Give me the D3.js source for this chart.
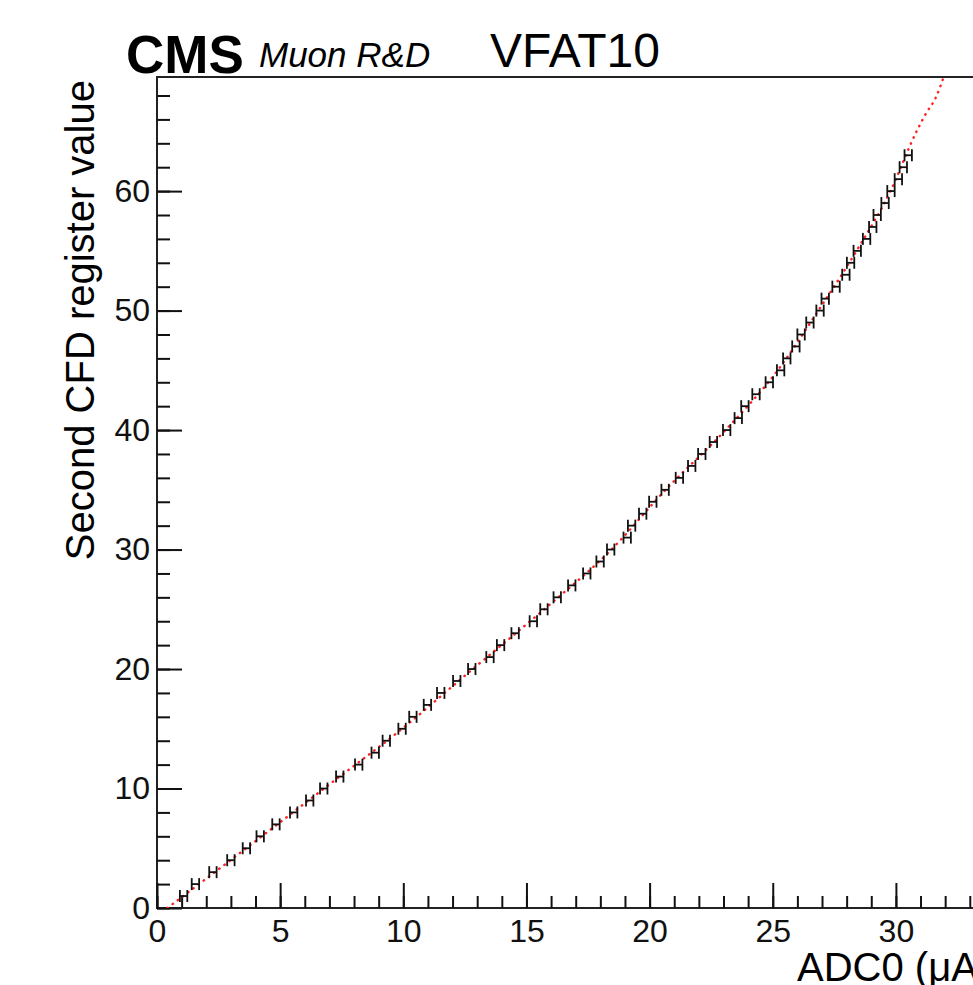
<!DOCTYPE html>
<html lang="en">
<head>
<meta charset="utf-8">
<script src="https://cdn.jsdelivr.net/npm/d3@7"></script>
<style>
  body { margin: 0; background: #fff; }
  svg { display: block; font-family: "Liberation Sans", Arial, sans-serif; }
</style>
</head>
<body>
<svg width="973" height="985"></svg>
<script>
  // register value (y) vs measured ADC0 current (x)
  var regValues = [1, 2, 3, 4, 5, 6, 7, 8, 9, 10, 11, 12, 13, 14, 15, 16, 17, 18, 19, 20,
    21, 22, 23, 24, 25, 26, 27, 28, 29, 30, 31, 32, 33, 34, 35, 36, 37, 38, 39, 40,
    41, 42, 43, 44, 45, 46, 47, 48, 49, 50, 51, 52, 53, 54, 55, 56, 57, 58, 59, 60,
    61, 62, 63];
  var adcValues = [1.08, 1.56, 2.27, 3.00, 3.63, 4.19, 4.83, 5.55, 6.20, 6.77,
    7.42, 8.19, 8.86, 9.31, 9.95, 10.39, 10.98, 11.52, 12.17, 12.78,
    13.52, 13.95, 14.54, 15.28, 15.71, 16.25, 16.84, 17.45, 17.99, 18.42,
    19.09, 19.27, 19.72, 20.13, 20.63, 21.21, 21.71, 22.12, 22.59, 23.13,
    23.60, 23.87, 24.32, 24.86, 25.32, 25.57, 25.94, 26.15, 26.51, 26.92,
    27.13, 27.57, 27.97, 28.16, 28.43, 28.81, 29.06, 29.24, 29.56, 29.80,
    30.10, 30.30, 30.50];
  var adcErr = 0.15;

  // fit curve
  var fitX = [0.42, 1.0, 3.62, 6.78, 9.95, 12.82, 15.72, 18.45, 20.65, 23.08, 25.2, 26.85, 28.4, 29.78, 30.84, 31.25, 31.59, 31.95];
  var fitY = [0, 0.9, 5, 10, 15, 20, 25, 30, 35, 40, 45, 50, 55, 60, 65, 66.6, 67.7, 69.6];

  var xMajor = [0, 5, 10, 15, 20, 25, 30];
  var yMajor = [0, 10, 20, 30, 40, 50, 60];

  var svg = d3.select("svg");
  var padLeft = 157, padTop = 77, padBottom = 908;

  var x = d3.scaleLinear().domain([0, 35]).range([padLeft, padLeft + 35 * 24.63]);
  var y = d3.scaleLinear().domain([0, 69.55]).range([padBottom, padTop]);

  svg.append("defs").append("clipPath").attr("id", "frame")
    .append("rect").attr("x", padLeft).attr("y", padTop)
    .attr("width", 1000).attr("height", padBottom - padTop);

  // frame
  svg.append("rect")
    .attr("x", padLeft).attr("y", padTop)
    .attr("width", x(35) - padLeft).attr("height", padBottom - padTop)
    .attr("fill", "none").attr("stroke", "#222").attr("stroke-width", 2);

  // x axis
  var xMinor = d3.axisBottom(x).ticks(35).tickSize(-12).tickFormat("");
  svg.append("g").attr("transform", "translate(0," + padBottom + ")").call(xMinor)
    .call(g => g.select(".domain").remove());
  var xAxis = d3.axisBottom(x).tickValues(xMajor).tickSize(-25).tickPadding(11).tickFormat(d3.format("d"));
  svg.append("g").attr("class", "xax").attr("transform", "translate(0," + padBottom + ")").call(xAxis)
    .call(g => g.select(".domain").remove());

  // y axis
  var yMinor = d3.axisLeft(y).tickValues(d3.range(0, 70, 2)).tickSize(-13).tickFormat("");
  svg.append("g").attr("transform", "translate(" + padLeft + ",0)").call(yMinor)
    .call(g => g.select(".domain").remove());
  var yAxis = d3.axisLeft(y).tickValues(yMajor).tickSize(-25).tickPadding(7).tickFormat(d3.format("d"));
  svg.append("g").attr("class", "yax").attr("transform", "translate(" + padLeft + ",0)").call(yAxis)
    .call(g => g.select(".domain").remove());

  svg.selectAll(".tick line").attr("stroke", "#111").attr("stroke-width", 2);
  svg.selectAll(".xax text, .yax text")
    .attr("font-family", "Liberation Sans, Arial, sans-serif")
    .attr("font-size", 32).attr("fill", "#111");

  // fit line
  var pts = fitX.map((v, i) => [v, fitY[i]]);
  svg.append("path")
    .attr("clip-path", "url(#frame)")
    .attr("d", d3.line().x(d => x(d[0])).y(d => y(d[1])).curve(d3.curveMonotoneX)(pts))
    .attr("fill", "none").attr("stroke", "#ff2020").attr("stroke-width", 2.4)
    .attr("stroke-linecap", "round").attr("stroke-dasharray", "0.5,6");

  // points with horizontal errors
  var data = regValues.map((v, i) => ({ x: adcValues[i], y: v }));
  var pt = svg.append("g").attr("stroke", "#111").attr("stroke-width", 1.8)
    .selectAll("g").data(data).enter().append("g");
  pt.append("line")
    .attr("x1", d => x(d.x - adcErr)).attr("x2", d => x(d.x + adcErr))
    .attr("y1", d => y(d.y)).attr("y2", d => y(d.y));
  pt.append("line")
    .attr("x1", d => x(d.x - adcErr)).attr("x2", d => x(d.x - adcErr))
    .attr("y1", d => y(d.y) - 6).attr("y2", d => y(d.y) + 6);
  pt.append("line")
    .attr("x1", d => x(d.x + adcErr)).attr("x2", d => x(d.x + adcErr))
    .attr("y1", d => y(d.y) - 6).attr("y2", d => y(d.y) + 6);

  // titles
  svg.append("text").attr("x", 126).attr("y", 73)
    .attr("font-weight", "bold").attr("font-size", 53).text("CMS");
  svg.append("text").attr("x", 259).attr("y", 67)
    .attr("font-style", "italic").attr("font-size", 35).text("Muon R&D");
  svg.append("text").attr("x", 490).attr("y", 67)
    .attr("font-size", 48).text("VFAT10");

  svg.append("text")
    .attr("transform", "translate(94,80) rotate(-90)")
    .attr("text-anchor", "end").attr("font-size", 40)
    .text("Second CFD register value");

  svg.append("text").attr("x", 797).attr("y", 981)
    .attr("font-size", 40).text("ADC0 (μA)");
</script>
</body>
</html>
